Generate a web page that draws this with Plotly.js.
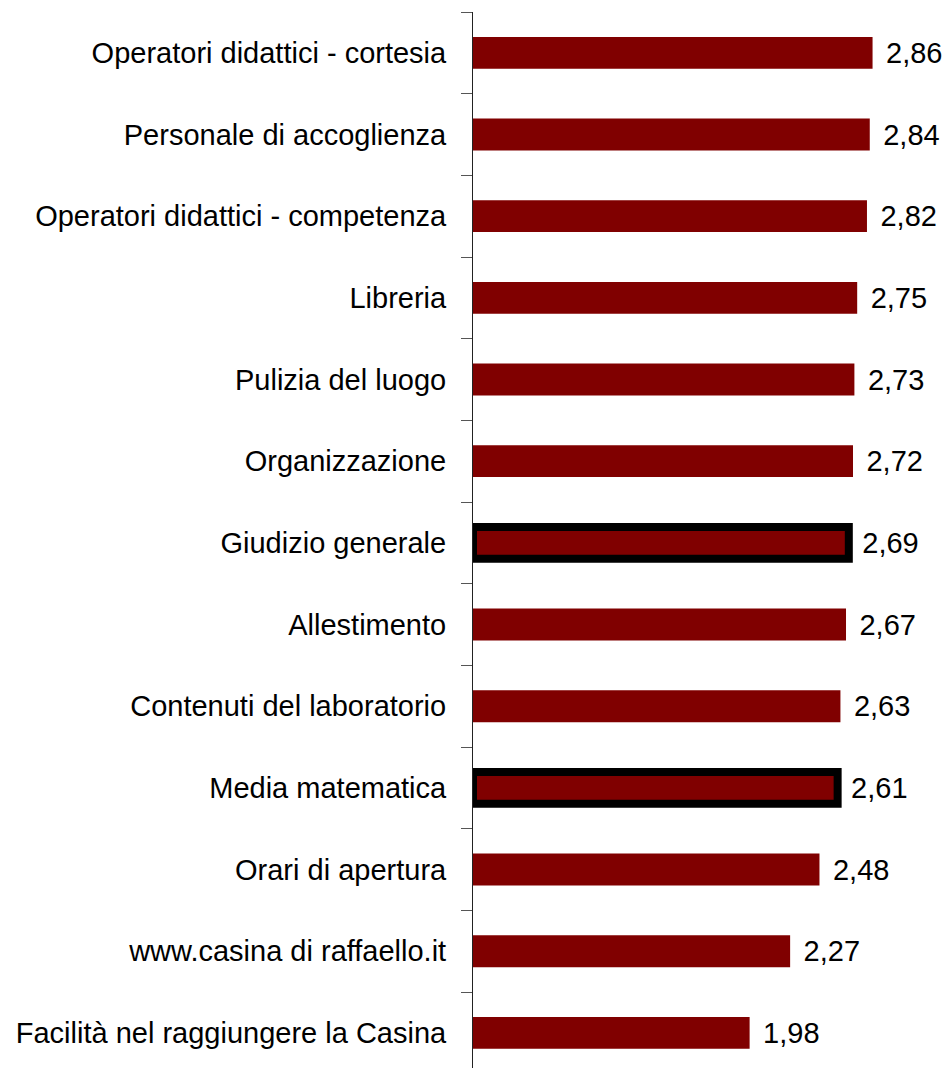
<!DOCTYPE html>
<html>
<head>
<meta charset="utf-8">
<script src="https://cdn.plot.ly/plotly-3.0.1.min.js"></script>
<style>html,body{margin:0;padding:0;background:#fff;}#chart{width:948px;height:1068px;}</style>
</head>
<body>
<div id="chart"></div>
<script>
const categories = [
  "Operatori didattici - cortesia",
  "Personale di accoglienza",
  "Operatori didattici - competenza",
  "Libreria",
  "Pulizia del luogo",
  "Organizzazione",
  "Giudizio generale",
  "Allestimento",
  "Contenuti del laboratorio",
  "Media matematica",
  "Orari di apertura",
  "www.casina di raffaello.it",
  "Facilità nel raggiungere la Casina"
];
const values = [2.86, 2.84, 2.82, 2.75, 2.73, 2.72, 2.69, 2.67, 2.63, 2.61, 2.48, 2.27, 1.98];
const highlighted = ["Giudizio generale", "Media matematica"];

const FONT = "Arial, 'Liberation Sans', sans-serif";

const trace = {
  type: "bar",
  orientation: "h",
  y: categories,
  x: values,
  width: 0.39,
  marker: {
    color: "#800000",
    line: {
      color: "#000000",
      width: categories.map(c => highlighted.includes(c) ? 8 : 0)
    }
  },
  texttemplate: " \u200A%{x:.2f}",
  textposition: "outside",
  constraintext: "none",
  cliponaxis: false,
  textfont: {family: FONT, size: 29, color: "#000"},
  hoverinfo: "none"
};

const layout = {
  width: 948,
  height: 1068,
  margin: {l: 473, r: 0, t: 12, b: 0, pad: 0},
  paper_bgcolor: "#fff",
  plot_bgcolor: "#fff",
  separators: ",.",
  showlegend: false,
  font: {family: FONT, size: 29, color: "#000"},
  xaxis: {
    range: [0, 3.4],
    visible: false,
    showgrid: false,
    zeroline: false
  },
  yaxis: {
    type: "category",
    range: [12.43, -0.5],
    showline: true,
    linecolor: "#222",
    linewidth: 1,
    ticks: "outside",
    tickson: "boundaries",
    ticklen: 11,
    tickcolor: "#555",
    tickwidth: 1,
    ticklabelstandoff: 20,
    showgrid: false,
    zeroline: false,
    tickfont: {family: FONT, size: 29, color: "#000"}
  }
};

Plotly.newPlot("chart", [trace], layout, {staticPlot: true, displayModeBar: false});
</script>
</body>
</html>
